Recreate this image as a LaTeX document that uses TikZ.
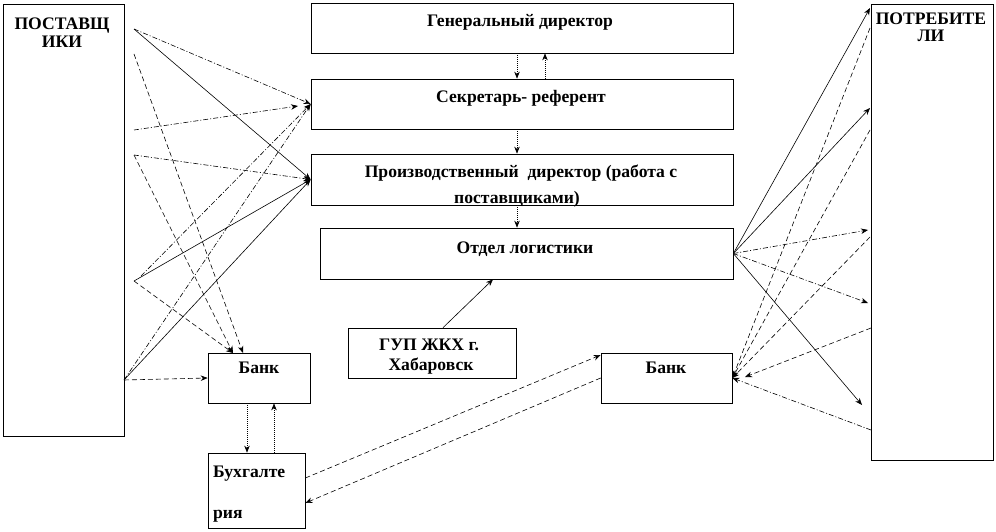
\documentclass[tikz,border=0pt]{standalone}
\usepackage{fontspec}
\setmainfont{Liberation Serif}
\usetikzlibrary{arrows.meta}
\begin{document}
\begin{tikzpicture}[x=1pt,y=-1pt,
  box/.style={draw, line width=0.7pt, rectangle, inner sep=0pt},
  txt/.style={anchor=base, inner sep=0pt, font=\fontsize{17.6}{20}\selectfont\bfseries},
  ln/.style={line width=0.6pt},
  arr/.style={ln, -{Stealth[length=7pt,width=5.5pt]}},
  dashln/.style={dash pattern=on 5pt off 3pt},
  ddln/.style={dash pattern=on 5pt off 2pt on 1pt off 2pt},
  dotln/.style={dash pattern=on 1pt off 1pt}
]
\useasboundingbox (0,0) rectangle (996,532);
% boxes
\node[box, minimum width=121pt, minimum height=432pt] (sup) at (63.5,220) {};
\node[box, minimum width=122pt, minimum height=456pt] (cons) at (932,232) {};
\node[box, minimum width=422pt, minimum height=50pt] (gen) at (522,28) {};
\node[box, minimum width=422pt, minimum height=50pt] (sec) at (522,104) {};
\node[box, minimum width=422pt, minimum height=51pt] (prod) at (522,179.5) {};
\node[box, minimum width=413pt, minimum height=51pt] (log) at (526.5,253.5) {};
\node[box, minimum width=168pt, minimum height=50pt] (gup) at (432,353) {};
\node[box, minimum width=102pt, minimum height=50pt] (bankL) at (259,378) {};
\node[box, minimum width=131pt, minimum height=50pt] (bankR) at (666.5,378) {};
\node[box, minimum width=97pt, minimum height=75pt] (buh) at (256.5,490.5) {};
% texts
\node[txt] (supt1) at (62,30) {ПОСТАВЩ};
\node[txt] (supt2) at (62,48) {ИКИ};
\node[txt] (const1) at (931,25) {ПОТРЕБИТЕ};
\node[txt] (const2) at (931,42) {ЛИ};
\node[txt] (gent) at (520,27) {Генеральный директор};
\node[txt] (sect) at (521,103) {Секретарь- референт};
\node[txt] (prodt1) at (521,177) {Производственный\ \ директор (работа с};
\node[txt] (prodt2) at (517,203) {поставщиками)};
\node[txt] (logt) at (525,253) {Отдел логистики};
\node[txt] (gupt1) at (429,350) {ГУП ЖКХ г.};
\node[txt] (gupt2) at (431,370) {Хабаровск};
\node[txt] (bankLt) at (259,373) {Банк};
\node[txt] (bankRt) at (666,373) {Банк};
\node[txt, anchor=base west] (buht1) at (213,477) {Бухгалте};
\node[txt, anchor=base west] (buht2) at (213,518) {рия};
% coordinates
\coordinate (s1) at (134,29);
\coordinate (s2) at (134,54);
\coordinate (s3) at (134,130);
\coordinate (s4) at (134,155);
\coordinate (s5) at (134,281);
\coordinate (s6) at (124,380);
\coordinate (s7) at (141,276);
\coordinate (secL) at (298,106);
\coordinate (bl1) at (233,353);
\coordinate (bl2) at (243,353);
\coordinate (c1) at (870,8);
\coordinate (c2) at (870,28);
\coordinate (c3) at (870,108);
\coordinate (c4) at (870,130);
\coordinate (c5) at (868,230);
\coordinate (c6) at (870,237);
\coordinate (c7) at (868,303);
\coordinate (c8) at (871,328);
\coordinate (c9) at (862,405);
\coordinate (c10) at (871,430);
\coordinate (br2) at (745,377);
% left connectors
\draw[arr, ddln] (s1) -- (sec.west);
\draw[arr] (s1) -- (prod.west);
\draw[arr, dashln] (s2) -- (bl2);
\draw[arr, ddln] (s3) -- (secL);
\draw[arr, ddln] (s4) -- (prod.west);
\draw[arr, dashln] (s4) -- (bl1);
\draw[arr] (s5) -- (prod.west);
\draw[arr, dashln] (s5) -- (bl1);
\draw[arr, ddln] (s7) -- (sec.west);
\draw[arr, ddln] (s6) -- (sec.west);
\draw[arr] (s6) -- (prod.west);
\draw[arr, dashln] (s6) -- (bankL.west);
% centre connectors
\draw[arr, dotln] ([xshift=-5pt]gen.south) -- ([xshift=-5pt]sec.north);
\draw[arr, dotln] ([xshift=23pt]sec.north) -- ([xshift=23pt]gen.south);
\draw[arr, dotln] ([xshift=-5pt]sec.south) -- ([xshift=-5pt]prod.north);
\draw[arr, dotln] ([xshift=-5pt]prod.south) -- ([xshift=-9.5pt]log.north);
\draw[arr] ([xshift=11pt]gup.north) -- ([xshift=-33.5pt]log.south);
\draw[arr, dotln] ([xshift=-12pt]bankL.south) -- ([xshift=-9.5pt]buh.north);
\draw[arr, dotln] ([xshift=17.5pt]buh.north) -- ([xshift=15pt]bankL.south);
\draw[arr, dashln] ([yshift=12.5pt]buh.east) -- ([yshift=23pt]bankR.west);
\draw[arr, dashln] (bankR.west) -- ([yshift=-12.5pt]buh.east);
% right connectors
\draw[arr] (log.east) -- (c1);
\draw[arr, dashln] (c2) -- (bankR.east);
\draw[arr] (log.east) -- (c3);
\draw[arr, dashln] (c4) -- (bankR.east);
\draw[arr, ddln] (log.east) -- (c5);
\draw[arr, dashln] (c6) -- (bankR.east);
\draw[arr, ddln] (log.east) -- (c7);
\draw[arr, dashln] (c8) -- (br2);
\draw[arr] (log.east) -- (c9);
\draw[arr, ddln] (c10) -- (bankR.east);
\end{tikzpicture}
\end{document}
